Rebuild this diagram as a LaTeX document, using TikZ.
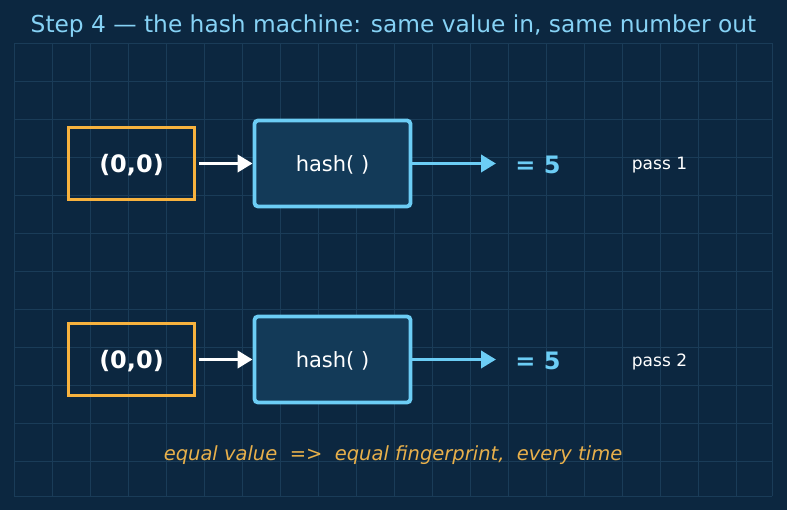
\documentclass[tikz,border=0pt]{standalone}
\usepackage{fontspec}
\setmainfont{DejaVu Sans}
\usetikzlibrary{arrows.meta}
\definecolor{bg}{HTML}{0C2740}
\definecolor{gridc}{HTML}{1A3C58}
\definecolor{orangec}{HTML}{F7B23E}
\definecolor{bluec}{HTML}{6CCDF5}
\definecolor{titlec}{HTML}{86D2F5}
\definecolor{hashfill}{HTML}{133A58}
\definecolor{notec}{HTML}{E8B04B}
\tikzset{
  valbox/.style={draw=orangec, line width=3.8pt, minimum width=126pt, minimum height=72pt, inner sep=0pt, text=white, text depth=0pt, font=\fontsize{24}{28}\selectfont\bfseries},
  hashbox/.style={draw=bluec, fill=hashfill, line width=3.8pt, rounded corners=3.5pt, minimum width=156pt, minimum height=86pt, inner sep=0pt, text=white, text depth=0pt, font=\fontsize{21}{25}\selectfont},
  resulttxt/.style={text=bluec, font=\fontsize{24}{28}\selectfont\bfseries, inner sep=0pt},
  passtxt/.style={text=white, font=\fontsize{17}{20}\selectfont, inner sep=0pt},
  whitearrow/.style={draw=white, line width=3.8pt, -{Triangle[length=15pt,width=17pt]}},
  bluearrow/.style={draw=bluec, line width=3.8pt, -{Triangle[length=15pt,width=17pt]}},
}
\begin{document}
\begin{tikzpicture}[x=1pt,y=-1pt]
\fill[bg] (0,0) rectangle (787,510);
\useasboundingbox (0,0) rectangle (787,510);
% grid
\foreach \i in {0,...,19} {\draw[gridc, line width=0.8pt] ({14+38*\i},43) -- ({14+38*\i},496);}
\draw[gridc, line width=0.8pt] (772,43) -- (772,496);
\foreach \j in {0,...,11} {\draw[gridc, line width=0.8pt] (14,{43+38*\j}) -- (772,{43+38*\j});}
\draw[gridc, line width=0.8pt] (14,496) -- (772,496);
% title
\node[text=titlec, font=\fontsize{23.3}{27}\selectfont, inner sep=0pt] (title) at (393.5,26.5) {Step 4 — the hash machine: same value in, same number out};
% row 1
\node[valbox] (v1) at (131.5,163.5) {(0,0)};
\node[hashbox] (h1) at (332.5,163.5) {hash( )};
\node[resulttxt] (r1) at (538,165) {= 5};
\node[passtxt] (p1) at (659.5,165.5) {pass 1};
\coordinate (e1) at (496,163.5);
\draw[whitearrow] (v1.east) ++(3,0) -- (h1.west);
\draw[bluearrow] (h1.east) -- (e1);
% row 2
\node[valbox] (v2) at (131.5,359.5) {(0,0)};
\node[hashbox] (h2) at (332.5,359.5) {hash( )};
\node[resulttxt] (r2) at (538,361) {= 5};
\node[passtxt] (p2) at (659.5,361.5) {pass 2};
\coordinate (e2) at (496,359.5);
\draw[whitearrow] (v2.east) ++(3,0) -- (h2.west);
\draw[bluearrow] (h2.east) -- (e2);
% note
\node[text=notec, font=\fontsize{19.5}{23}\selectfont\itshape, inner sep=0pt] (note) at (393,455) {equal value\ \ =>\ \ equal fingerprint,\ \ every time};
\end{tikzpicture}
\end{document}
